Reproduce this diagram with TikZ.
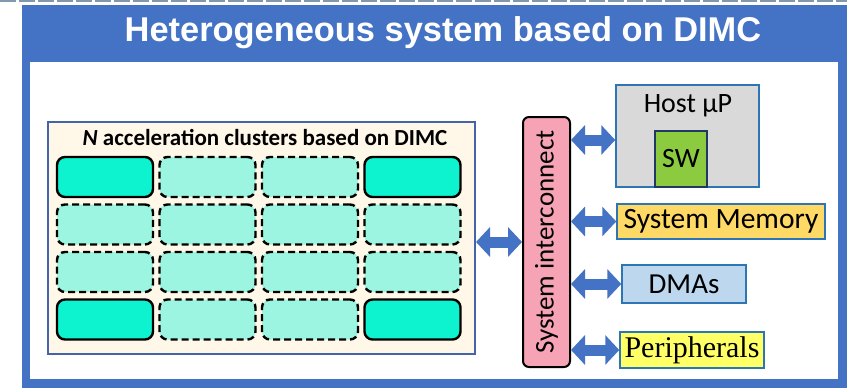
\documentclass[tikz,border=0pt]{standalone}
\usepackage{fontspec}
\setmainfont{Carlito}
\newfontfamily\headfont{Liberation Sans}
\newfontfamily\perifont{Liberation Serif}
\usetikzlibrary{arrows.meta}

\definecolor{frameblue}{HTML}{4472C4}
\definecolor{topdash}{HTML}{8298B0}
\definecolor{cream}{HTML}{FFF8E8}
\definecolor{clusterline}{HTML}{4463A8}
\definecolor{aquasolid}{HTML}{0DF2CF}
\definecolor{aqualight}{HTML}{9CF5E1}
\definecolor{icpink}{HTML}{F7A3B6}
\definecolor{hostgray}{HTML}{D9D9D9}
\definecolor{swgreen}{HTML}{8CCB40}
\definecolor{memgold}{HTML}{FFD966}
\definecolor{dmablue}{HTML}{BDD7EE}
\definecolor{peryellow}{HTML}{FFFF66}
\definecolor{boxline}{HTML}{2E75B6}
\definecolor{swline}{HTML}{203864}
\definecolor{arrowblue}{HTML}{4472C4}

\tikzset{
  cellsolid/.style={draw=black, line width=2.4pt, rounded corners=8pt,
    fill=aquasolid, minimum width=96pt, minimum height=40pt},
  celldash/.style={draw=black, line width=2.4pt, rounded corners=8pt,
    fill=aqualight, minimum width=96pt, minimum height=40pt,
    dash pattern=on 7pt off 4pt},
  unitbox/.style={draw=boxline, line width=1.5pt, inner sep=0pt},
  dblarrow/.style={draw=arrowblue, line width=11pt,
    arrows={Triangle[length=14pt,width=29pt]-Triangle[length=14pt,width=29pt]}},
}

\begin{document}
\begin{tikzpicture}[x=1pt,y=-1pt]
\useasboundingbox (0,0) rectangle (847,388);

% dashed rule along the top edge
\draw[topdash, line width=2pt, dash pattern=on 16pt off 3pt] (0,1) -- (847,1);

% outer blue frame with white panel
\fill[frameblue] (22,5) rectangle (847,388);
\fill[white] (30,62) rectangle (838,379);
\node[font=\headfont\bfseries\fontsize{34.4}{36}\selectfont, text=white]
  (title) at (443,33) {Heterogeneous system based on DIMC};

% acceleration clusters
\node[draw=clusterline, line width=2pt, fill=cream,
  minimum width=427pt, minimum height=232pt, inner sep=0pt]
  (clusters) at (261.5,238) {};
\node[font=\bfseries\fontsize{23}{25}\selectfont]
  (clustertitle) at (265,137) {\textit{N} acceleration clusters based on DIMC};

\foreach \r in {1,...,4}{
  \foreach \c in {1,...,4}{
    \pgfmathsetmacro{\cx}{105+102.5*(\c-1)}
    \pgfmathsetmacro{\cy}{177+47.5*(\r-1)}
    \pgfmathtruncatemacro{\corner}{((\r==1)||(\r==4))&&((\c==1)||(\c==4))}
    \ifnum\corner=1
      \node[cellsolid] (cell-\r-\c) at (\cx,\cy) {};
    \else
      \node[celldash] (cell-\r-\c) at (\cx,\cy) {};
    \fi
  }
}

% system interconnect
\node[draw=black, line width=2pt, fill=icpink, rounded corners=6pt,
  minimum width=47pt, minimum height=250pt] (ic) at (546.5,242) {};
\node[rotate=90, font=\fontsize{27}{29}\selectfont] (iclabel) at (ic.center)
  {System interconnect};

% host processor with software
\node[unitbox, fill=hostgray, minimum width=143pt, minimum height=102pt]
  (host) at (687.5,136) {};
\node[font=\fontsize{28}{30}\selectfont] (hostlabel) at (688,106) {Host μP};
\node[draw=swline, line width=1.5pt, fill=swgreen, minimum width=52pt,
  minimum height=56pt, font=\fontsize{28}{30}\selectfont]
  (sw) at (681,159) {SW};

% memory, DMA and peripherals
\node[unitbox, fill=memgold, minimum width=208pt, minimum height=35pt,
  font=\fontsize{29.5}{31}\selectfont] (mem) at (721,221.5) {System Memory};
\node[unitbox, fill=dmablue, minimum width=124pt, minimum height=38pt,
  font=\fontsize{29}{31}\selectfont] (dma) at (684,284) {DMAs};
\node[unitbox, fill=peryellow, minimum width=144pt, minimum height=36pt,
  font=\perifont\fontsize{30}{32}\selectfont] (per) at (692,350) {Peripherals};

% links
\draw[dblarrow] (ic.west -| clusters.east) -- (ic.west);
\draw[dblarrow] (ic.east |- 0,140) coordinate (hostport) -- (host.west |- hostport);
\draw[dblarrow] (ic.east |- mem.west) -- (mem.west);
\draw[dblarrow] (ic.east |- dma.west) -- (dma.west);
\draw[dblarrow] (ic.east |- per.west) -- (per.west);
\end{tikzpicture}
\end{document}
